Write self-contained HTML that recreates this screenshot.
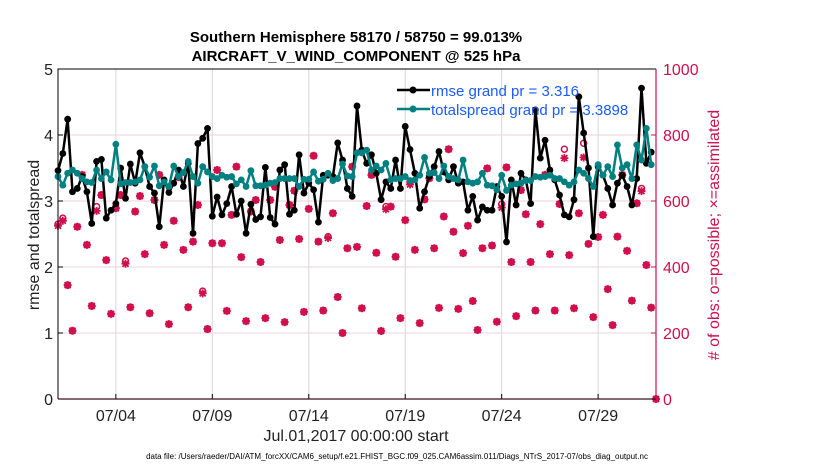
<!DOCTYPE html>
<html><head><meta charset="utf-8">
<style>
html,body{margin:0;padding:0;background:#fff;}
svg{display:block;font-family:"Liberation Sans",sans-serif;}
</style></head>
<body>
<svg id="chart" width="830" height="470" viewBox="0 0 830 470" xmlns="http://www.w3.org/2000/svg">
<rect x="0" y="0" width="830" height="470" fill="#fff"/>
<text x="356" y="42" text-anchor="middle" font-size="15" font-weight="bold">Southern Hemisphere 58170 / 58750 = 99.013%</text>
<text x="356" y="61" text-anchor="middle" font-size="15" font-weight="bold">AIRCRAFT_V_WIND_COMPONENT @ 525 hPa</text>
<g id="grid"></g>
<g id="obs"></g>
<g id="lines"></g>
<g id="axes"></g>
<text transform="translate(39,235) rotate(-90)" text-anchor="middle" font-size="16" fill="#222">rmse and totalspread</text>
<text transform="translate(719,235) rotate(-90)" text-anchor="middle" font-size="16" fill="#d0104c"># of obs: o=possible; ×=assimilated</text>
<text x="356" y="441" text-anchor="middle" font-size="16" fill="#222">Jul.01,2017 00:00:00 start</text>
<text x="397" y="459" text-anchor="middle" font-size="8" fill="#000">data file: /Users/raeder/DAI/ATM_forcXX/CAM6_setup/f.e21.FHIST_BGC.f09_025.CAM6assim.011/Diags_NTrS_2017-07/obs_diag_output.nc</text>
<g>
  <line x1="397" y1="90" x2="430" y2="90" stroke="#000" stroke-width="2.5"/>
  <circle cx="413" cy="90" r="3.5" fill="#000"/>
  <text x="431" y="96" font-size="15" fill="#1a5cff">rmse grand pr = 3.316</text>
  <line x1="397" y1="109" x2="430" y2="109" stroke="#008080" stroke-width="2.5"/>
  <circle cx="413" cy="109" r="3.5" fill="#008080"/>
  <text x="431" y="115" font-size="15" fill="#1a5cff">totalspread grand pr = 3.3898</text>
</g>
</svg>
<script>
const rmse = [3.46,3.72,4.24,3.14,3.19,3.37,3.14,2.66,3.6,3.63,2.74,2.86,2.96,3.5,3.04,3.56,3.27,3.73,3.52,3.22,3.12,2.61,3.32,3.13,3.27,3.47,3.22,3.57,2.51,3.87,3.95,4.1,2.77,3.06,2.79,2.96,3.22,2.8,3.0,2.51,2.95,2.72,2.76,3.51,2.75,2.65,3.47,3.55,2.8,2.86,3.7,3.12,3.27,3.17,2.68,3.39,3.39,3.37,3.88,3.62,3.19,3.07,4.44,3.77,3.57,3.7,3.42,3.02,3.29,3.19,3.62,3.19,4.13,3.78,3.42,2.89,3.14,3.37,3.52,3.75,3.44,3.32,3.52,3.27,3.29,2.86,3.07,2.71,2.91,2.86,2.86,3.22,3.07,2.38,3.32,2.94,3.42,3.32,2.96,4.38,3.65,3.92,3.47,3.32,3.09,2.79,2.76,3.02,4.58,4.03,3.5,2.46,3.52,3.39,3.19,2.94,3.27,3.39,3.22,2.94,3.34,4.71,3.57,3.74];
const spread = [3.37,3.24,3.42,3.47,3.42,3.34,3.29,3.28,3.47,3.34,3.44,3.32,3.86,3.26,3.28,3.28,3.29,3.32,3.52,3.36,3.53,3.23,3.29,3.22,3.53,3.37,3.43,3.6,3.37,3.27,3.52,3.44,3.37,3.34,3.39,3.36,3.37,3.26,3.32,3.22,3.46,3.23,3.23,3.24,3.27,3.28,3.34,3.34,3.34,3.34,3.22,3.33,3.33,3.44,3.3,3.33,3.42,3.31,3.34,3.56,3.38,3.37,3.73,3.73,3.77,3.47,3.53,3.47,3.57,3.32,3.34,3.34,3.37,3.31,3.32,3.39,3.66,3.42,3.43,3.34,3.53,3.37,3.34,3.32,3.62,3.29,3.27,3.29,3.42,3.24,3.23,3.17,3.39,3.16,3.24,3.26,3.27,3.31,3.31,3.37,3.36,3.37,3.39,3.34,3.34,3.29,3.24,3.29,3.47,3.42,3.34,3.22,3.55,3.39,3.52,3.37,3.85,3.5,3.55,3.34,3.85,3.62,4.1,3.55];
const obsPossible = [530,548,345,207, 522,679,467,282, 583,618,421,258, 578,618,418,278, 568,615,439,260, 603,679,467,227, 540,672,452,278, 477,588,327,212, 472,694,472,267, 558,704,430,236, 568,603,415,245, 603,643,482,233, 588,631,485,264, 576,737,477,268, 492,563,309,200, 457,704,461,275, 585,679,443,206, 583,583,431,245, 542,658,452,230, 605,669,457,276, 553,757,507,273, 442,525,297,209, 457,699,465,234, 590,702,415,251, 633,560,415,268, 530,679,439,268, 591,757,436,275, 563,775,470,248, 491,558,333,224, 492,679,449,298, 593,638,406,277, 0];
const obsAssimilated = [525,540,345,207, 522,679,467,282, 570,618,421,258, 578,618,410,278, 568,615,439,260, 603,679,467,227, 540,672,452,278, 477,588,320,212, 472,694,472,267, 558,704,430,236, 568,603,415,245, 603,643,482,233, 588,631,485,264, 576,737,477,268, 488,563,309,200, 457,704,461,275, 585,679,443,206, 575,583,431,245, 542,650,452,230, 605,669,457,276, 553,757,507,273, 442,525,297,209, 457,699,465,234, 580,702,415,251, 633,560,415,268, 530,679,439,268, 591,730,436,275, 563,732,470,248, 491,558,333,224, 492,679,449,298, 593,630,406,277, 0];
const dayTicks = [3,8,13,18,23,28];
const dayTickLabels = ["07/04","07/09","07/14","07/19","07/24","07/29"];
const leftTicks = [0,1,2,3,4,5];
const rightTicks = [0,200,400,600,800,1000];

const NS = "http://www.w3.org/2000/svg";
const X0 = 58, X1 = 656, Y0 = 399, Y1 = 69, DAYS = 31;
function xScale(day){ return X0 + day*(X1-X0)/DAYS; }
function yLeft(v){ return Y0 - v*(Y0-Y1)/5; }
function yRight(n){ return Y0 - n*(Y0-Y1)/1000; }
function slotDay(i){ return i*0.25; }
function mk(tag, attrs, parent){
  const e = document.createElementNS(NS, tag);
  for (const k in attrs) e.setAttribute(k, attrs[k]);
  parent.appendChild(e);
  return e;
}
const grid = document.getElementById('grid');
const axes = document.getElementById('axes');
const obsG = document.getElementById('obs');
const linesG = document.getElementById('lines');

dayTicks.forEach((d, k) => {
  const x = xScale(d);
  const gl = mk('line', {x1:x, y1:Y1, x2:x, y2:Y0, stroke:'#d8d8d8', 'stroke-width':1}, grid);
  
  
  const tk = mk('line', {x1:x, y1:Y0, x2:x, y2:Y0-5, stroke:'#000', 'stroke-width':1}, axes);
  
  
  const t = mk('text', {x:x, y:421, 'text-anchor':'middle', 'font-size':16, fill:'#222'}, axes);
  t.textContent = dayTickLabels[k];
  
  
});
leftTicks.forEach(v => {
  const y = yLeft(v);
  if (v > 0 && v < 5) {
    const gl = mk('line', {x1:X0, y1:y, x2:X1, y2:y, stroke:'#ecd0d8', 'stroke-width':1}, grid);
    
    
  }
  const tk = mk('line', {x1:X0, y1:y, x2:X0+5, y2:y, stroke:'#000', 'stroke-width':1}, axes);
  
  
  const t = mk('text', {x:53, y:y+6, 'text-anchor':'end', 'font-size':16, fill:'#222'}, axes);
  t.textContent = v;
  
  
});
rightTicks.forEach(n => {
  const y = yRight(n);
  const tk = mk('line', {x1:X1, y1:y, x2:X1-5, y2:y, stroke:'#d0104c', 'stroke-width':1}, axes);
  
  
  const t = mk('text', {x:663, y:y+6, 'text-anchor':'start', 'font-size':16, fill:'#d0104c'}, axes);
  t.textContent = n;
  
  
});
const fr1 = mk('path', {d:`M${X0},${Y0} L${X0},${Y1} L${X1},${Y1}`, fill:'none', stroke:'#000', 'stroke-width':1}, axes);


const fr2 = mk('line', {x1:X0, y1:Y0, x2:X1, y2:Y0, stroke:'#3a1020', 'stroke-width':1.2}, axes);


const fr3 = mk('line', {x1:X1, y1:Y1, x2:X1, y2:Y0, stroke:'#d0104c', 'stroke-width':1.2}, axes);



const MC = '#d0104c';
obsPossible.forEach((n, i) => {
  const x = xScale(slotDay(i)), y = yRight(n);
  const c = mk('circle', {cx:x, cy:y, r:3, fill:'none', stroke:MC, 'stroke-width':1.5}, obsG);
  
  
});
obsAssimilated.forEach((n, i) => {
  const x = xScale(slotDay(i)), y = yRight(n);
  const p = mk('path', {d:`M${x-4},${y} H${x+4} M${x},${y-4} V${y+4} M${x-3},${y-3} L${x+3},${y+3} M${x-3},${y+3} L${x+3},${y-3}`, stroke:MC, 'stroke-width':1.8, fill:'none'}, obsG);
  
  
  const d = mk('circle', {cx:x, cy:y, r:2.5, fill:MC}, obsG);
  
  
});

function drawSeries(vals, color, name){
  const pts = vals.map((v, i) => xScale(slotDay(i)).toFixed(1) + ',' + yLeft(v).toFixed(1)).join(' ');
  const pl = mk('polyline', {points:pts, fill:'none', stroke:color, 'stroke-width':2.5, 'stroke-linejoin':'round'}, linesG);
  
  
  vals.forEach((v, i) => {
    const c = mk('circle', {cx:xScale(slotDay(i)), cy:yLeft(v), r:3.4, fill:color}, linesG);
    
    
  });
}
drawSeries(rmse, '#000', 'rmse');
drawSeries(spread, '#008080', 'totalspread');
</script>
</body></html>
